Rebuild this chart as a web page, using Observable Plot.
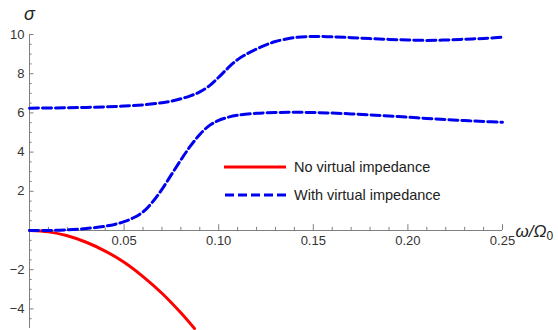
<!DOCTYPE html>
<html>
<head>
<meta charset="utf-8">
<script src="https://cdn.jsdelivr.net/npm/d3@7"></script>
<script src="https://cdn.jsdelivr.net/npm/@observablehq/plot@0.6"></script>
<style>
  html, body { margin: 0; padding: 0; background: #fff; }
  #wrap { position: relative; width: 558px; height: 330px; font-family: "Liberation Sans", Arial, sans-serif; }
  #legend { position: absolute; left: 224px; top: 153px; font-size: 14.5px; color: #222; }
  #legend .row { display: flex; align-items: center; height: 28px; }
  #legend svg { margin-right: 8px; }
</style>
</head>
<body>
<div id="wrap"></div>
<script>
// Data
const omegaRed = [0, 0.01, 0.02, 0.03, 0.04, 0.05, 0.06, 0.07, 0.08, 0.0872];
const sigmaRed = [0, -0.07, -0.27, -0.6, -1.05, -1.62, -2.35, -3.2, -4.2, -5];

const omegaLow = [0, 0.01, 0.02, 0.03, 0.04, 0.045, 0.05, 0.055, 0.06, 0.065, 0.07, 0.075, 0.08, 0.085, 0.09, 0.095, 0.1, 0.105, 0.11, 0.12, 0.13, 0.14, 0.15, 0.16, 0.17, 0.18, 0.19, 0.2, 0.21, 0.22, 0.23, 0.24, 0.25];
const sigmaLow = [0, 0.0, 0.03, 0.1, 0.22, 0.31, 0.45, 0.65, 0.95, 1.45, 2.1, 2.85, 3.6, 4.3, 4.9, 5.35, 5.62, 5.78, 5.88, 5.98, 6.02, 6.03, 6.02, 5.99, 5.95, 5.9, 5.84, 5.78, 5.72, 5.66, 5.61, 5.56, 5.52];

const omegaUp = [0, 0.01, 0.02, 0.03, 0.04, 0.05, 0.06, 0.07, 0.075, 0.08, 0.085, 0.09, 0.095, 0.1, 0.105, 0.11, 0.115, 0.12, 0.125, 0.13, 0.14, 0.15, 0.16, 0.17, 0.18, 0.19, 0.2, 0.21, 0.22, 0.23, 0.24, 0.25];
const sigmaUp = [6.24, 6.25, 6.26, 6.28, 6.31, 6.35, 6.41, 6.52, 6.6, 6.72, 6.87, 7.07, 7.38, 7.82, 8.3, 8.72, 9.02, 9.26, 9.47, 9.64, 9.84, 9.9, 9.88, 9.84, 9.79, 9.75, 9.72, 9.7, 9.72, 9.76, 9.8, 9.86];

const xTicks = [0.05, 0.10, 0.15, 0.20, 0.25];
const xTickLabels = ["0.05", "0.10", "0.15", "0.20", "0.25"];
const yTicks = [-4, -2, 2, 4, 6, 8, 10];
const yTickLabels = ["\u22124", "\u22122", "2", "4", "6", "8", "10"];
const xMinor = [0.01, 0.02, 0.03, 0.04, 0.06, 0.07, 0.08, 0.09, 0.11, 0.12, 0.13, 0.14, 0.16, 0.17, 0.18, 0.19, 0.21, 0.22, 0.23, 0.24];
const yMinor = [-4.5, -3.5, -3, -2.5, -1.5, -1, -0.5, 0.5, 1, 1.5, 2.5, 3, 3.5, 4.5, 5, 5.5, 6.5, 7, 7.5, 8.5, 9, 9.5];

const seriesNames = ["No virtual impedance", "With virtual impedance"];

const red = omegaRed.map((w, i) => ({w, s: sigmaRed[i]}));
const low = omegaLow.map((w, i) => ({w, s: sigmaLow[i]}));
const up = omegaUp.map((w, i) => ({w, s: sigmaUp[i]}));

const axisColor = "#808080";
const labelColor = "#333";
const font = "Liberation Sans, Arial, sans-serif";

const chart = Plot.plot({
  width: 558,
  height: 330,
  marginLeft: 29,
  marginRight: 56,
  marginTop: 34,
  marginBottom: 2,
  style: {fontFamily: font, background: "transparent", overflow: "visible"},
  x: {domain: [0, 0.25], axis: null},
  y: {domain: [-5, 10], axis: null},
  marks: [
    Plot.ruleY([0], {x1: 0, x2: 0.25, stroke: axisColor, strokeWidth: 1}),
    Plot.ruleX([0], {y1: -5, y2: 10, stroke: axisColor, strokeWidth: 1}),
    Plot.ruleX(xTicks, {x: d => d, y1: 0, y2: 0.3, stroke: axisColor}),
    Plot.ruleX(xMinor, {x: d => d, y1: 0, y2: 0.16, stroke: axisColor}),
    Plot.ruleY(yTicks, {y: d => d, x1: 0, x2: 0.0024, stroke: axisColor}),
    Plot.ruleY(yMinor, {y: d => d, x1: 0, x2: 0.0014, stroke: axisColor}),
    Plot.text(xTicks, {x: d => d, y: 0, text: (d, i) => xTickLabels[i], dy: 10, fontSize: 13, fill: labelColor}),
    Plot.text(yTicks, {x: 0, y: d => d, text: (d, i) => yTickLabels[i], textAnchor: "end", dx: -5, fontSize: 13, fill: labelColor}),
    Plot.line(red, {x: "w", y: "s", stroke: "#ff0000", strokeWidth: 3, curve: "catmull-rom"}),
    Plot.line(low, {x: "w", y: "s", stroke: "#0000f0", strokeWidth: 3, strokeDasharray: "9,4", curve: "catmull-rom"}),
    Plot.line(up, {x: "w", y: "s", stroke: "#0000f0", strokeWidth: 3, strokeDasharray: "9,4", curve: "catmull-rom"}),
    Plot.text(["\u03c3"], {x: 0, y: 10, text: d => d, dy: -20, fontSize: 18, fontStyle: "italic", fill: "#222"}),
    Plot.text(["\u03c9/\u03a9"], {x: 0.25, y: 0, text: d => d, textAnchor: "start", dx: 13, dy: 1, fontSize: 17, fontStyle: "italic", fill: "#222"}),
    Plot.text(["0"], {x: 0.25, y: 0, text: d => d, textAnchor: "start", dx: 44, dy: 6, fontSize: 12, fill: "#222"})
  ]
});

const wrap = document.getElementById("wrap");
wrap.appendChild(chart);

const legend = document.createElement("div");
legend.id = "legend";
legend.innerHTML = `
  <div class="row"><svg width="62" height="6"><line x1="0" y1="3" x2="62" y2="3" stroke="#ff0000" stroke-width="3"/></svg><span>${seriesNames[0]}</span></div>
  <div class="row"><svg width="62" height="6"><line x1="1" y1="3" x2="62" y2="3" stroke="#0000f0" stroke-width="3" stroke-dasharray="9,4"/></svg><span>${seriesNames[1]}</span></div>`;
wrap.appendChild(legend);
</script>
</body>
</html>
